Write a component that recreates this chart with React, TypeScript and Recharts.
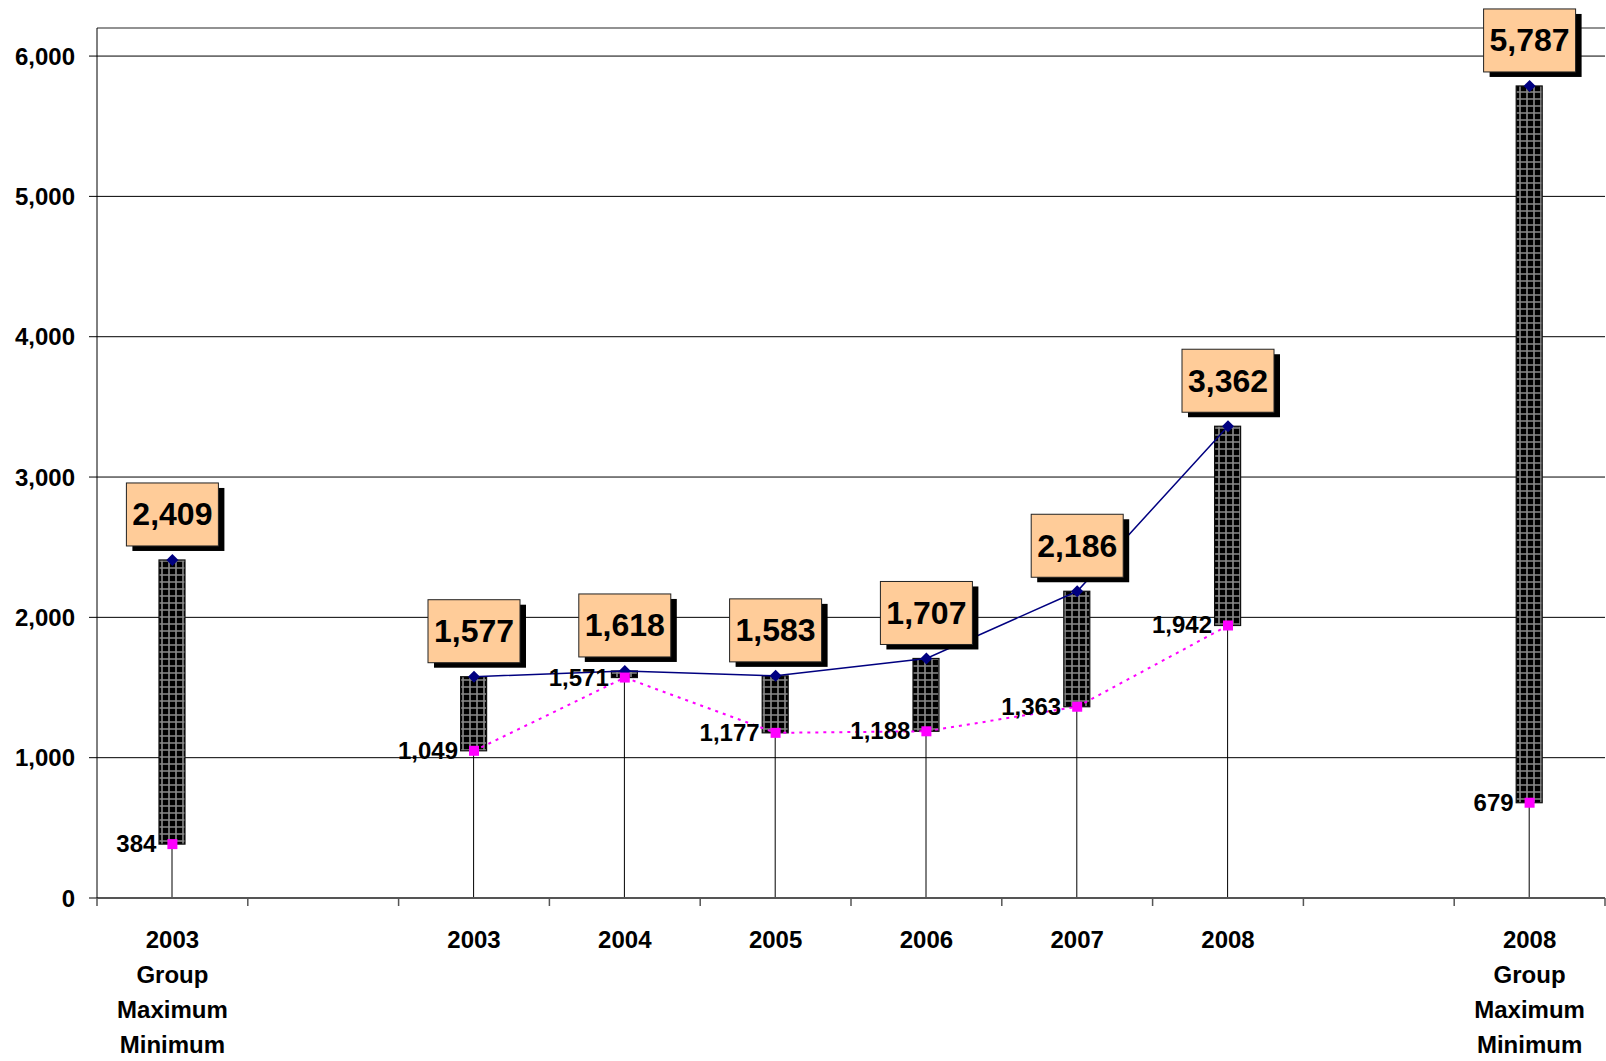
import React from 'react';
import {
    ComposedChart, Bar, Line, XAxis, YAxis, CartesianGrid, LabelList, ReferenceLine,
} from 'recharts';

// category labels (multi-line), blanks are the gaps between groups
const CATEGORY_LINES: string[][] = [
    ['2003', 'Group', 'Maximum', 'Minimum'],
    [],
    ['2003'],
    ['2004'],
    ['2005'],
    ['2006'],
    ['2007'],
    ['2008'],
    [],
    ['2008', 'Group', 'Maximum', 'Minimum'],
];

const MAX_VALUES: (number | null)[] = [2409, null, 1577, 1618, 1583, 1707, 2186, 3362, null, 5787];
const MIN_VALUES: (number | null)[] = [384, null, 1049, 1571, 1177, 1188, 1363, 1942, null, 679];

const Y_TICKS = [0, 1000, 2000, 3000, 4000, 5000, 6000];
const Y_MAX = 6200;

const FONT = '"Liberation Sans", Arial, sans-serif';
const NAVY = '#000080';
const MAGENTA = '#FF00FF';

const data = CATEGORY_LINES.map((lines, i) => {
    const max = MAX_VALUES[i];
    const min = MIN_VALUES[i];
    return {
        key: 'c' + i,
        max,
        min,
        low: min,
        span: max != null && min != null ? max - min : null,
    };
});

const fmt = (v: number) => v.toLocaleString('en-US');

function XTick(props: any) {
    const { x, y, index, width } = props;
    const lines = CATEGORY_LINES[index] ?? [];
    const bw = (width ?? 1508) / CATEGORY_LINES.length;
    return (
        <g>
            <line x1={x - bw / 2} x2={x - bw / 2} y1={y} y2={y + 8} stroke="#555" strokeWidth={1.5} />
            {index === CATEGORY_LINES.length - 1 && (
                <line x1={x + bw / 2} x2={x + bw / 2} y1={y} y2={y + 8} stroke="#555" strokeWidth={1.5} />
            )}
            <text x={x} y={y + 50} textAnchor="middle" fontFamily={FONT} fontWeight={700} fontSize={24} fill="#000">
                {lines.map((l, i) => (
                    <tspan key={i} x={x} dy={i === 0 ? 0 : 35}>{l}</tspan>
                ))}
            </text>
        </g>
    );
}

const LowShape = (p: any) => {
    if (!p.height) return null;
    const cx = p.x + p.width / 2;
    return <line x1={cx} x2={cx} y1={p.y} y2={p.y + p.height} stroke="#000" strokeWidth={1} />;
};

const SpanShape = (p: any) => {
    if (p.height == null) return null;
    return <rect x={p.x} y={p.y} width={p.width} height={Math.max(p.height, 1)} fill="url(#hatch)" stroke="#111" strokeWidth={1.2} />;
};

const Diamond = (p: any) => {
    if (p.value == null || p.cy == null) return null;
    const { cx, cy } = p;
    return <path d={`M${cx},${cy - 6} L${cx + 6},${cy} L${cx},${cy + 6} L${cx - 6},${cy} Z`} fill={NAVY} />;
};

const Square = (p: any) => {
    if (p.value == null || p.cy == null) return null;
    return <rect x={p.cx - 5} y={p.cy - 5} width={10} height={10} fill={MAGENTA} />;
};

const MaxBox = (p: any) => {
    if (p.value == null) return null;
    const w = 92, h = 63;
    const bx = p.x - w / 2;
    const by = p.y - 14 - h;
    return (
        <g>
            <rect x={bx + 6} y={by + 5} width={w} height={h} fill="#000" />
            <rect x={bx} y={by} width={w} height={h} fill="#FFCC99" stroke="#222" strokeWidth={1} />
            <text x={p.x} y={by + h / 2 + 11} textAnchor="middle" fontFamily={FONT} fontWeight={700} fontSize={32} fill="#000">
                {fmt(p.value)}
            </text>
        </g>
    );
};

const MinText = (p: any) => {
    if (p.value == null) return null;
    return (
        <text x={p.x - 16} y={p.y + 8} textAnchor="end" fontFamily={FONT} fontWeight={700} fontSize={24} fill="#000">
            {fmt(p.value)}
        </text>
    );
};

export default function App() {
    return (
        <div style={{ position: 'absolute', left: 0, top: 0, background: '#fff' }}>
            <ComposedChart width={1606} height={1061} data={data} margin={{ top: 28, right: 1, bottom: 0, left: 0 }} barCategoryGap={0}>
                <defs>
                    <pattern id="hatch" patternUnits="userSpaceOnUse" width={7} height={7}>
                        <rect x={0} y={0} width={7} height={7} fill="#000" />
                        <path d="M0,1 L7,1 M1,0 L1,7" stroke="#8a8a8a" strokeWidth={1.6} />
                    </pattern>
                </defs>
                <CartesianGrid vertical={false} stroke="#000" strokeWidth={1} />
                <XAxis
                    dataKey="key"
                    height={163}
                    axisLine={{ stroke: '#555', strokeWidth: 2 }}
                    tickLine={false}
                    tickSize={0}
                    tickMargin={0}
                    interval={0}
                    tick={<XTick />}
                />
                <YAxis
                    width={97}
                    domain={[0, Y_MAX]}
                    ticks={Y_TICKS}
                    tickFormatter={fmt}
                    tickSize={8}
                    tickMargin={14}
                    axisLine={{ stroke: '#000' }}
                    tickLine={{ stroke: '#000' }}
                    tick={{ fontFamily: FONT, fontWeight: 700, fontSize: 24, fill: '#000' }}
                    allowDataOverflow
                />
                <YAxis yAxisId="r" orientation="right" width={0} domain={[0, 1]} tick={false} tickLine={false} axisLine={{ stroke: '#999', strokeWidth: 1.5 }} />
                <ReferenceLine y={Y_MAX} stroke="#999" strokeWidth={1.5} />

                <Line dataKey="max" stroke={NAVY} strokeWidth={1.5} dot={false} isAnimationActive={false} />
                <Line dataKey="min" stroke={MAGENTA} strokeWidth={2} strokeDasharray="3 5" dot={false} isAnimationActive={false} />

                <Bar dataKey="low" stackId="a" barSize={26} shape={<LowShape />} isAnimationActive={false} />
                <Bar dataKey="span" stackId="a" barSize={26} shape={<SpanShape />} isAnimationActive={false} />

                <Line dataKey="max" stroke="none" strokeWidth={0} dot={<Diamond />} activeDot={false} isAnimationActive={false}>
                    <LabelList dataKey="max" content={<MaxBox />} />
                </Line>
                <Line dataKey="min" stroke="none" strokeWidth={0} dot={<Square />} activeDot={false} isAnimationActive={false}>
                    <LabelList dataKey="min" content={<MinText />} />
                </Line>
            </ComposedChart>
        </div>
    );
}
